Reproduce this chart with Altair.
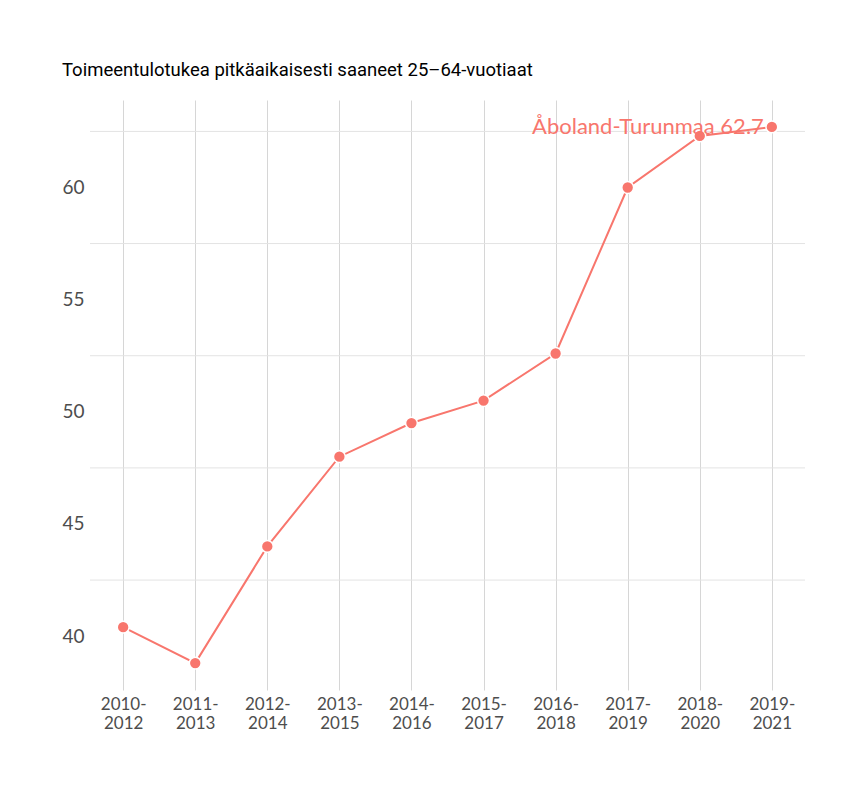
import altair as alt
import pandas as pd

periods = ["2010-2012", "2011-2013", "2012-2014", "2013-2015", "2014-2016",
           "2015-2017", "2016-2018", "2017-2019", "2018-2020", "2019-2021"]
values = [40.4, 38.8, 44.0, 48.0, 49.5, 50.5, 52.6, 60.0, 62.3, 62.7]
region = "Åboland-Turunmaa"
title_text = "Toimeentulotukea pitkäaikaisesti saaneet 25–64-vuotiaat"
y_labels = [40, 45, 50, 55, 60]
y_minor = [42.5, 47.5, 52.5, 57.5, 62.5]

COLOR = "#F8766D"
FONT = "Lato"

df = pd.DataFrame({"period": periods, "value": values})
df["label"] = region + " " + df["value"].map(lambda v: f"{v:g}")
grid_df = pd.DataFrame({"g": y_minor})

xscale = alt.Scale(type="point", padding=0.46)
yscale = alt.Scale(domain=[37.6, 63.9], nice=False, zero=False)

xenc = alt.X("period:N", sort=periods, scale=xscale, title=None,
             axis=alt.Axis(grid=True, gridColor="#d6d6d6", gridWidth=1,
                           domain=False, ticks=False, labelAngle=0,
                           labelFont=FONT, labelFontSize=17, labelColor="#4d4d4d",
                           labelPadding=6, labelLineHeight=19,
                           labelExpr="[split(datum.label,'-')[0] + '-', split(datum.label,'-')[1]]"))

grid = alt.Chart(grid_df).mark_rule(color="#e3e3e3", strokeWidth=1).encode(
    y=alt.Y("g:Q", scale=yscale, title=None,
            axis=alt.Axis(values=y_labels, grid=False, domain=False, ticks=False,
                          labelFont=FONT, labelFontSize=19, labelColor="#4d4d4d",
                          labelPadding=6)),
)

base = alt.Chart(df)
line = base.mark_line(color=COLOR, strokeWidth=2).encode(
    x=xenc, y=alt.Y("value:Q", scale=yscale))
pts = base.mark_point(filled=True, color=COLOR, size=140, opacity=1,
                      stroke="white", strokeWidth=1.5).encode(
    x=alt.X("period:N", sort=periods, scale=xscale),
    y=alt.Y("value:Q", scale=yscale))
txt = base.transform_filter(alt.datum.period == periods[-1]).mark_text(
    align="right", baseline="middle", dx=-8, font=FONT, fontSize=22, color=COLOR
).encode(x=alt.X("period:N", sort=periods, scale=xscale),
         y=alt.Y("value:Q", scale=yscale), text="label:N")

chart = alt.layer(grid, line, pts, txt).properties(
    width=715, height=590,
    padding={"left": 82, "top": 92, "right": 30, "bottom": 80},
    autosize=alt.AutoSizeParams(type="none"),
    background="white",
    title=alt.TitleParams(title_text, anchor="start", font="Roboto",
                          fontSize=18.5, fontWeight="normal", color="#000000",
                          offset=21),
).configure_view(strokeWidth=0, stroke=None)

chart.save("out.html", embed_options={"renderer": "svg", "actions": False})
